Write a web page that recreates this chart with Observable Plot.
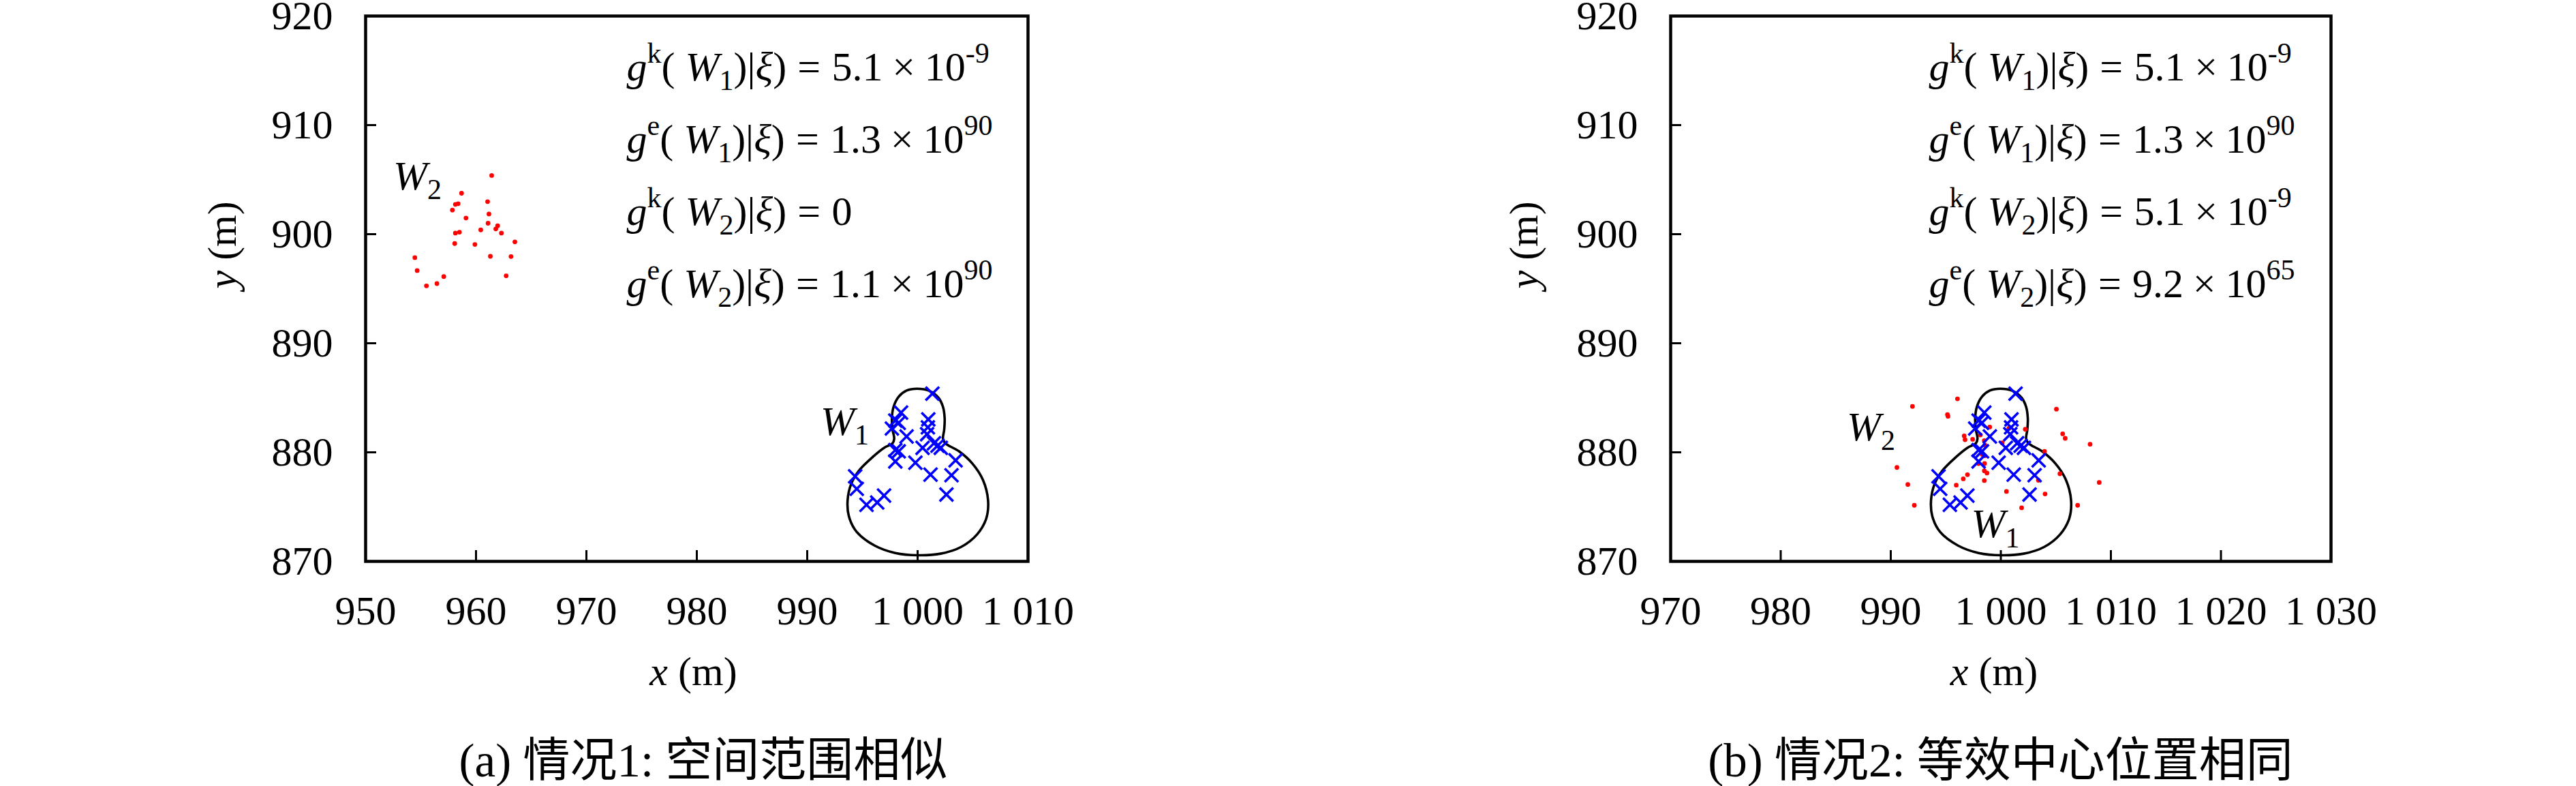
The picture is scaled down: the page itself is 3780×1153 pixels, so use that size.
<!DOCTYPE html>
<html><head><meta charset="utf-8">
<script src="https://cdn.jsdelivr.net/npm/d3@7"></script>
<script src="https://cdn.jsdelivr.net/npm/@observablehq/plot@0.6"></script>
<style>
html,body{margin:0;padding:0;background:#fff;}
#root{position:relative;width:3780px;height:1153px;overflow:hidden;background:#fff;font-family:"Liberation Serif","Noto Sans CJK SC",serif;}
.panel{position:absolute;top:0;}
.caption{position:absolute;top:1078px;font-size:69px;line-height:76px;white-space:nowrap;transform:translateX(-50%);color:#000;}
</style></head><body><div id="root"></div>
<script>
// ---------- data ----------
const yTicks = [870, 880, 890, 900, 910, 920];
const xTicksA = [950, 960, 970, 980, 990, 1000, 1010];
const xTicksB = [970, 980, 990, 1000, 1010, 1020, 1030];

// outline of region W1 (traced)
const contourX = [999.94, 1001.07, 1001.89, 1002.30, 1002.45, 1002.41, 1002.30, 1002.51, 1003.75, 1004.98, 1005.91, 1006.38, 1006.22, 1005.39, 1003.95, 1002.10, 1000.04, 997.98, 996.13, 994.49, 993.77, 993.66, 993.97, 994.69, 995.93, 996.96, 997.73, 997.88, 997.73, 997.67, 997.82, 998.29, 999.00];
const contourY = [885.83, 885.63, 885.00, 884.16, 883.12, 882.08, 881.25, 880.83, 880.09, 878.95, 877.49, 875.61, 873.94, 872.48, 871.33, 870.71, 870.56, 870.77, 871.44, 872.69, 874.15, 875.61, 877.07, 878.32, 879.57, 880.41, 880.83, 881.25, 882.08, 883.12, 884.16, 885.10, 885.66];

// W1 samples (blue crosses), same in both cases
const w1X = [1001.34, 998.50, 997.98, 998.29, 997.67, 1000.97, 1000.93, 999.00, 1000.86, 1001.48, 1000.45, 1002.10, 1001.80, 997.98, 998.29, 1003.44, 997.98, 999.80, 1001.17, 1003.07, 994.34, 994.49, 996.96, 996.34, 995.37, 1002.61];
const w1Y = [885.38, 883.64, 882.91, 882.70, 882.18, 883.02, 882.29, 881.45, 881.66, 880.83, 880.41, 880.41, 880.60, 880.20, 880.09, 879.26, 879.16, 879.05, 877.95, 877.90, 877.80, 876.65, 876.03, 875.40, 875.19, 876.13];

// W2 samples, case 1 (red dots)
const w2aX = [961.42, 958.69, 958.13, 958.38, 957.86, 961.05, 961.17, 959.09, 961.09, 961.96, 961.79, 960.43, 962.30, 958.13, 958.50, 958.07, 959.90, 963.52, 954.46, 961.30, 963.17, 954.67, 957.08, 956.46, 955.51, 962.73];
const w2aY = [905.38, 903.75, 902.73, 902.79, 902.21, 902.98, 901.85, 901.48, 901.00, 900.77, 900.48, 900.39, 900.10, 900.10, 900.18, 899.14, 899.06, 899.29, 897.85, 897.97, 897.95, 896.66, 896.11, 895.47, 895.26, 896.18];

// W2 samples, case 2 (red dots)
const w2bX = [991.97, 996.06, 995.15, 995.20, 1005.05, 998.99, 1000.73, 1002.22, 1005.62, 1005.85, 996.67, 996.75, 997.44, 998.14, 998.50, 1008.11, 1000.12, 998.55, 1003.97, 998.30, 998.55, 997.97, 998.52, 990.56, 998.50, 998.74, 996.97, 996.59, 998.50, 1003.41, 1005.37, 1008.94, 991.55, 995.95, 1000.51, 1004.02, 992.14, 1001.89, 1006.98];
const w2bY = [884.21, 884.90, 883.46, 883.30, 883.96, 882.32, 882.19, 882.11, 881.69, 881.28, 881.50, 881.15, 881.19, 881.59, 881.07, 880.74, 880.86, 880.67, 880.09, 879.82, 879.68, 878.97, 878.97, 878.61, 878.30, 878.10, 877.95, 877.57, 877.41, 877.43, 878.03, 877.24, 877.05, 876.99, 876.41, 876.18, 875.14, 874.91, 875.14];

// annotation texts (*italic*, ^{sup}, _{sub})
const notesA = [
  "*g*^{k}( *W*_{1})|*ξ*)=5.1×10^{-9}",
  "*g*^{e}( *W*_{1})|*ξ*)=1.3×10^{90}",
  "*g*^{k}( *W*_{2})|*ξ*)=0",
  "*g*^{e}( *W*_{2})|*ξ*)=1.1×10^{90}"
];
const notesB = [
  "*g*^{k}( *W*_{1})|*ξ*)=5.1×10^{-9}",
  "*g*^{e}( *W*_{1})|*ξ*)=1.3×10^{90}",
  "*g*^{k}( *W*_{2})|*ξ*)=5.1×10^{-9}",
  "*g*^{e}( *W*_{2})|*ξ*)=9.2×10^{65}"
];
// region labels
const labTextA = ["*W*_{2}", "*W*_{1}"];
const labXA = [952.5, 991.2];
const labYA = [904.1, 881.6];
const labTextB = ["*W*_{2}", "*W*_{1}"];
const labXB = [986.0, 997.3];
const labYB = [881.1, 872.2];

const xLabel = "*x* (m)";
const yLabel = "*y* (m)";
const captions = ["(a) 情况1: 空间范围相似", "(b) 情况2: 等效中心位置相同"];

// ---------- drawing ----------
const FS = 60;
const fmt = d => d >= 1000 ? `${Math.floor(d / 1000)} ${String(d % 1000).padStart(3, "0")}` : `${d}`;
const zip = (xs, ys) => xs.map((x, i) => ({x, y: ys[i]}));

function panel(o) {
  const W = 1890, H = 1060;
  const contour = zip(contourX, contourY);
  const marks = [
    Plot.axisX({ticks: o.xTicks, tickFormat: fmt, tickSize: -16, tickPadding: 66, strokeWidth: 3, fontSize: FS, label: null}),
    Plot.axisY({ticks: yTicks, tickSize: -16, tickPadding: 64, strokeWidth: 3, fontSize: FS, label: null}),
    Plot.line(contour, {x: "x", y: "y", curve: "catmull-rom-closed", stroke: "black", strokeWidth: 3.6}),
    Plot.dot(zip(o.redX, o.redY), {x: "x", y: "y", r: 3.4, fill: "#ff0000", stroke: "none"}),
    Plot.dot(zip(w1X, w1Y), {x: "x", y: "y", symbol: "times", r: 9.1, stroke: "#0000ff", strokeWidth: 3.6}),
    Plot.frame({stroke: "black", strokeWidth: 4.5}),
    Plot.text(o.labText.map((t, i) => ({t, x: o.labX[i], y: o.labY[i]})), {x: "x", y: "y", text: "t", textAnchor: "start", lineAnchor: "bottom", fontSize: FS}),
    Plot.text([xLabel], {text: d => d, frameAnchor: "bottom", dy: 162, dx: o.xlabDx, lineAnchor: "middle", fontSize: FS}),
    Plot.text([yLabel], {text: d => d, frameAnchor: "left", dx: o.ylabDx, rotate: -90, lineAnchor: "middle", fontSize: FS})
  ];
  o.notes.forEach((t, i) => {
    marks.push(Plot.text([t], {text: d => d, frameAnchor: "top-left", dx: o.noteDx, dy: 94 + i * 106, textAnchor: "start", lineAnchor: "bottom", fontSize: FS}));
  });
  return Plot.plot({
    width: W, height: H,
    marginLeft: o.ml, marginRight: W - o.fr, marginTop: 23, marginBottom: H - 823,
    style: {fontFamily: "'Liberation Serif', 'DejaVu Serif', serif", fontSize: FS + "px", background: "white", color: "black", overflow: "visible"},
    x: {domain: o.xDomain},
    y: {domain: [870, 920]},
    marks
  });
}

function parseRich(s) {
  const segs = []; let buf = "", italic = false;
  const push = () => { if (buf) segs.push({text: buf, italic, mode: "n"}); buf = ""; };
  for (let i = 0; i < s.length; i++) {
    const c = s[i];
    if (c === "*") { push(); italic = !italic; }
    else if ((c === "^" || c === "_") && s[i + 1] === "{") {
      push();
      const j = s.indexOf("}", i);
      segs.push({text: s.slice(i + 2, j), italic: false, mode: c === "^" ? "sup" : "sub"});
      i = j;
    } else buf += c;
  }
  push();
  // split out relation / operator signs so they can get math spacing
  const out = [];
  segs.forEach(sg => {
    if (sg.mode !== "n") { out.push(sg); return; }
    sg.text.split(/([=×])/).forEach(p => { if (p) out.push({...sg, text: p, op: p === "=" || p === "×"}); });
  });
  return out;
}

function richify(svg) {
  const NS = "http://www.w3.org/2000/svg";
  svg.querySelectorAll("text").forEach(t => {
    const targets = t.querySelector("tspan") ? [...t.querySelectorAll("tspan")] : [t];
    targets.forEach(el => {
      const s = el.textContent;
      if (!/[*^_]/.test(s)) return;
      const fs = parseFloat(getComputedStyle(el).fontSize) || FS;
      el.textContent = "";
      let cur = 0, pending = 0;
      parseRich(s).forEach(seg => {
        const ts = document.createElementNS(NS, "tspan");
        ts.textContent = seg.text;
        if (seg.italic) ts.setAttribute("font-style", "italic");
        const target = seg.mode === "sup" ? -0.42 * fs : seg.mode === "sub" ? 0.24 * fs : 0;
        if (seg.mode !== "n") ts.setAttribute("font-size", (0.7 * fs) + "px");
        if (target !== cur) { ts.setAttribute("dy", (target - cur) + "px"); cur = target; }
        let dx = pending; pending = 0;
        if (seg.op) { const sp = seg.text === "=" ? 0.27 * fs : 0.23 * fs; dx += sp; pending = sp; }
        if (dx) ts.setAttribute("dx", dx + "px");
        el.appendChild(ts);
      });
    });
  });
}

const root = document.getElementById("root");
const specs = [
  {left: 0, ml: 536, fr: 1508, xDomain: [950, 1010], xTicks: xTicksA, redX: w2aX, redY: w2aY, notes: notesA, labText: labTextA, labX: labXA, labY: labYA, noteDx: 383, xlabDx: -5, ylabDx: -210},
  {left: 1890, ml: 561, fr: 1530, xDomain: [970, 1030], xTicks: xTicksB, redX: w2bX, redY: w2bY, notes: notesB, labText: labTextB, labX: labXB, labY: labYB, noteDx: 379, xlabDx: -10, ylabDx: -215}
];
specs.forEach((o, k) => {
  const div = document.createElement("div");
  div.className = "panel";
  div.style.left = o.left + "px";
  const svg = panel(o);
  div.appendChild(svg);
  root.appendChild(div);
  richify(svg);
  const cap = document.createElement("div");
  cap.className = "caption";
  cap.textContent = captions[k];
  cap.style.left = (o.left + (o.ml + o.fr) / 2 + (k === 0 ? 10 : 0)) + "px";
  root.appendChild(cap);
});
</script></body></html>
